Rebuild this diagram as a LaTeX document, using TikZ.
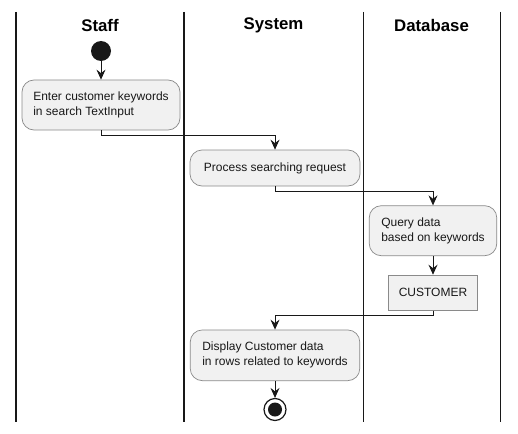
\documentclass[tikz,border=0pt]{standalone}
\usepackage{fontspec}
\setmainfont{Liberation Sans}
\usetikzlibrary{arrows.meta}
\definecolor{boxfill}{HTML}{F1F1F1}
\definecolor{boxline}{HTML}{8A8A8A}
\definecolor{ink}{HTML}{181818}
\tikzset{
  lane/.style={line width=1.4pt, ink},
  title/.style={font=\fontsize{16.8}{20}\selectfont\bfseries, anchor=center, inner sep=0pt},
  act/.style={draw=boxline, line width=0.7pt, fill=boxfill, rounded corners=12pt,
    align=left, font=\fontsize{12}{15}\selectfont, inner sep=0pt, text=ink},
  tbl/.style={draw=boxline, line width=0.7pt, fill=boxfill, align=center,
    font=\fontsize{12}{15}\selectfont, inner sep=0pt, text=ink},
  arr/.style={draw=ink, line width=0.9pt, -{Stealth[length=10pt,width=9pt,inset=3.5pt]}},
}
\begin{document}
\begin{tikzpicture}[x=1pt,y=-1pt]
\useasboundingbox (0,0) rectangle (518,433);
% lanes
\draw[lane] (16,12) -- (16,422);
\draw[lane] (184,12) -- (184,422);
\draw[lane] (363.5,12) -- (363.5,422);
\draw[lane] (500.5,12) -- (500.5,422);
\node[title] (tstaff) at (100,25) {Staff};
\node[title] (tsys) at (273.5,25) {System};
\node[title] (tdb) at (431.5,25) {Database};
% nodes
\node[circle, fill=ink, minimum size=20pt, inner sep=0pt] (start) at (101,51) {};
\node[act, minimum width=158pt, minimum height=50pt] (a1) at (101,105) {Enter customer keywords\\in search TextInput};
\node[act, minimum width=170pt, minimum height=36pt] (a2) at (275,168) {Process searching request};
\node[act, minimum width=127.5pt, minimum height=50pt] (a3) at (433,230.7) {Query data\\based on keywords};
\node[tbl, minimum width=88.5pt, minimum height=35.3pt] (cust) at (433,292.7) {CUSTOMER};
\node[act, minimum width=169.5pt, minimum height=50.7pt] (a4) at (275,355.3) {Display Customer data\\in rows related to keywords};
\node[circle, draw=ink, line width=1.2pt, fill=white, minimum size=22pt, inner sep=0pt] (end) at (275,409.5) {};
\fill[ink] (end.center) circle (7pt);
% edges
\draw[arr] (start) -- (a1);
\draw[arr] (a1.south) -- ++(0,5) -| (a2.north);
\draw[arr] (a2.south) -- ++(0,5) -| (a3.north);
\draw[arr] (a3) -- (cust);
\draw[arr] (cust.south) -- ++(0,5) -| (a4.north);
\draw[arr] (a4) -- (end);
\end{tikzpicture}
\end{document}
